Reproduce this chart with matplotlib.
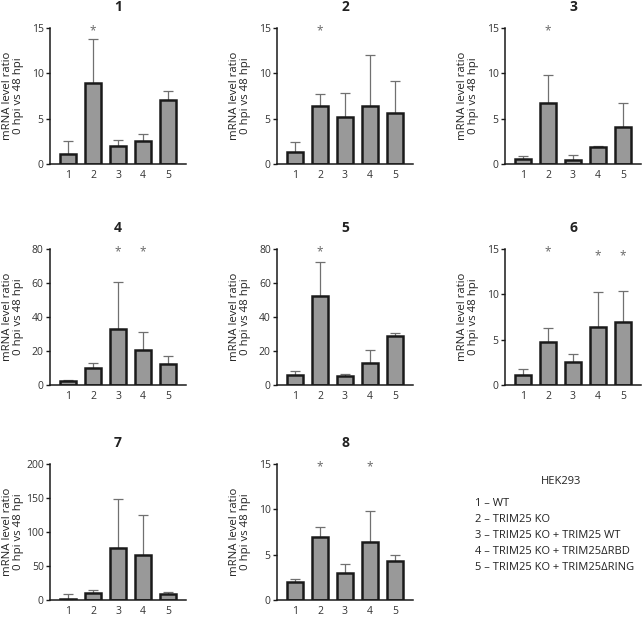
import matplotlib
matplotlib.use("Agg")
import matplotlib.pyplot as plt
import numpy as np

plt.rcParams['font.family'] = ['Open Sans', 'DejaVu Sans']

groups = ["1", "2", "3", "4", "5"]
titles = ["1", "2", "3", "4", "5", "6", "7", "8"]

means_1 = [1.1, 8.9, 2.0, 2.5, 7.1]
tops_1 = [2.5, 13.8, 2.6, 3.3, 8.1]
means_2 = [1.3, 6.45, 5.2, 6.4, 5.6]
tops_2 = [2.4, 7.7, 7.8, 12.0, 9.2]
means_3 = [0.55, 6.7, 0.48, 1.92, 4.1]
tops_3 = [0.85, 9.85, 1.03, 2.03, 6.7]
means_4 = [2.2, 10.0, 32.7, 20.4, 12.2]
tops_4 = [3.1, 12.9, 60.6, 31.0, 16.9]
means_5 = [5.7, 52.4, 5.5, 13.0, 28.6]
tops_5 = [8.5, 72.1, 6.7, 20.7, 30.3]
means_6 = [1.15, 4.73, 2.5, 6.35, 7.0]
tops_6 = [1.77, 6.28, 3.43, 10.23, 10.4]
means_7 = [2.0, 9.8, 77.0, 66.0, 8.3]
tops_7 = [8.3, 14.7, 148.0, 124.5, 11.8]
means_8 = [1.95, 6.9, 2.94, 6.43, 4.26]
tops_8 = [2.28, 8.1, 4.0, 9.8, 4.93]

ymax = [15, 15, 15, 80, 80, 15, 200, 15]
yticks = [[0, 5, 10, 15], [0, 5, 10, 15], [0, 5, 10, 15],
          [0, 20, 40, 60, 80], [0, 20, 40, 60, 80], [0, 5, 10, 15],
          [0, 50, 100, 150, 200], [0, 5, 10, 15]]
# significance stars: (bar index, y value)
stars = [[(1, 14.7)], [(1, 14.7)], [(1, 14.7)],
         [(2, 78.5), (3, 78.5)], [(1, 78.5)], [(1, 14.7), (3, 14.3), (4, 14.3)],
         [], [(1, 14.7), (3, 14.7)]]

means = [means_1, means_2, means_3, means_4, means_5, means_6, means_7, means_8]
tops = [tops_1, tops_2, tops_3, tops_4, tops_5, tops_6, tops_7, tops_8]

legend_title = "HEK293"
legend_items = ["1 \u2013 WT", "2 \u2013 TRIM25 KO", "3 \u2013 TRIM25 KO + TRIM25 WT",
                "4 \u2013 TRIM25 KO + TRIM25\u0394RBD", "5 \u2013 TRIM25 KO + TRIM25\u0394RING"]

W, H = 643, 617
fig = plt.figure(figsize=(W / 100, H / 100), dpi=100)

col_left = [50, 277, 505]
row_bottom = [164, 385, 600]
aw, ah = 136, 136

for i in range(8):
    r, c = divmod(i, 3)
    left = col_left[c] / W
    bottom = 1 - row_bottom[r] / H
    ax = fig.add_axes([left, bottom, aw / W, ah / H])
    x = np.arange(1, 6)
    m = np.array(means[i])
    t = np.array(tops[i])
    ax.errorbar(x, m, yerr=[np.zeros(5), t - m], fmt='none', ecolor='#707070',
                elinewidth=0.9, capsize=3.3, capthick=0.9, zorder=1)
    ax.bar(x, m, width=0.66, color='#999999', edgecolor='#1a1a1a', linewidth=1.8, zorder=2)
    for (bi, sy) in stars[i]:
        ax.text(x[bi], sy, "*", ha='center', va='center', fontsize=8.5, color='#666666')
    ax.set_xlim(0.28, 5.72)
    ax.set_ylim(0, ymax[i])
    ax.set_yticks(yticks[i])
    ax.set_xticks(x)
    ax.set_xticklabels(groups)
    ax.spines['top'].set_visible(False)
    ax.spines['right'].set_visible(False)
    for s in ['left', 'bottom']:
        ax.spines[s].set_linewidth(1.1)
        ax.spines[s].set_color('#1a1a1a')
    ax.tick_params(axis='y', length=3, width=1.0, labelsize=7.5, colors='#1a1a1a',
                   labelcolor='#333333', pad=1.5)
    ax.tick_params(axis='x', length=0, labelsize=7.5, labelcolor='#333333', pad=4.5)
    ax.set_ylabel("mRNA level ratio\n0 hpi vs 48 hpi", fontsize=8.2, color='#222222',
                  linespacing=1.05)
    ax.yaxis.set_label_coords(-0.19, 0.5)
    ax.set_title(titles[i], fontsize=10, fontweight='bold', color='#222222', pad=12)

fig.text(561 / W, 1 - 481 / H, legend_title, ha='center', va='center', fontsize=8,
         color='#222222')
for k, item in enumerate(legend_items):
    fig.text(475 / W, 1 - (503 + 16 * k) / H, item, ha='left', va='center',
             fontsize=8, color='#222222')

fig.savefig("out.png", dpi=100)
